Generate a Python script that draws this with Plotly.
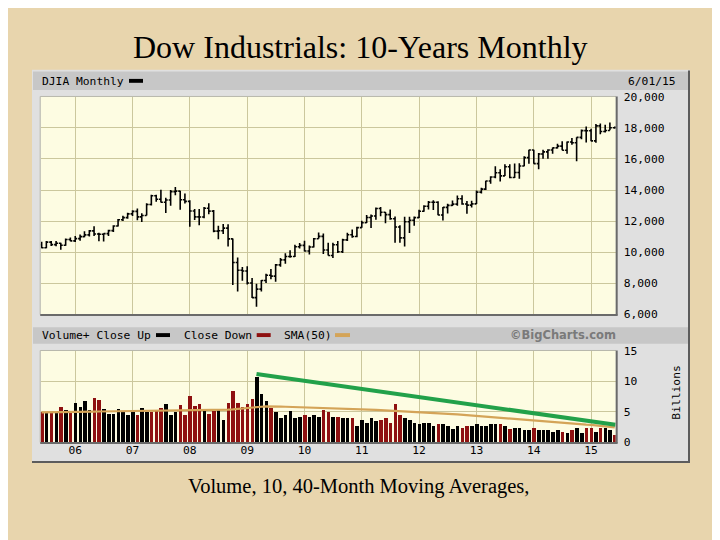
import pandas as pd
import plotly.graph_objects as go

W, H = 720, 540
OFF = 8  # the page places the figure 8px from the top-left corner


def px(x):
    return (x - OFF) / W


def py(y):
    return 1 - (y - OFF) / H


# ---------------- data ----------------
months = pd.date_range("2005-06-01", "2015-06-01", freq="MS")

year_ticks = ["2006-01-01", "2007-01-01", "2008-01-01", "2009-01-01", "2010-01-01",
              "2011-01-01", "2012-01-01", "2013-01-01", "2014-01-01", "2015-01-01"]
year_labels = ["06", "07", "08", "09", "10", "11", "12", "13", "14", "15"]

price_ticks = [6000, 8000, 10000, 12000, 14000, 16000, 18000, 20000]
volume_ticks = [0, 5, 10, 15]

opens = [
    10467, 10275, 10641, 10482, 10569, 10440, 10806,
    10718, 10865, 10993, 11109, 11367, 11168, 11150, 11186, 11381, 11679, 12081, 12222,
    12463, 12622, 12269, 12354, 13063, 13628, 13409, 13212, 13358, 13896, 13930, 13372,
    13265, 12650, 12266, 12263, 12820, 12638, 11350, 11378, 11544, 10851, 9325, 8829,
    8776, 8001, 7063, 7609, 8168, 8500, 8447, 9172, 9496, 9712, 9713, 10345,
    10428, 10067, 10325, 10857, 11009, 10137, 9774, 10466, 10015, 10788, 11118, 11006,
    11578, 11892, 12226, 12320, 12811, 12570, 12414, 12143, 11614, 10913, 11955, 12046,
    12218, 12633, 12952, 13212, 13214, 12393, 12880, 13009, 13091, 13437, 13096, 13026,
    13104, 13861, 14054, 14579, 14840, 15116, 14910, 15500, 14810, 15130, 15546, 16086,
    16577, 15699, 16322, 16458, 16581, 16717, 16827, 16563, 17098, 17043, 17391, 17828,
    17823, 17165, 18133, 17776, 17841, 18011,
]
highs = [
    10657, 10720, 10719, 10720, 10600, 10874, 10939,
    11043, 11137, 11335, 11420, 11670, 11250, 11220, 11440, 11720, 12130, 12340, 12530,
    12700, 12800, 12500, 13140, 13700, 13690, 14021, 13500, 14000, 14198, 13960, 13780,
    13340, 12770, 12770, 12900, 13140, 12710, 11700, 11810, 11790, 10880, 9650, 9030,
    9090, 8320, 7950, 8200, 8600, 8900, 9230, 9620, 9920, 10120, 10470, 10580,
    10730, 10420, 10900, 11260, 11200, 10600, 10600, 10720, 10860, 11250, 11450, 11630,
    12020, 12390, 12420, 12880, 12900, 12590, 12750, 12300, 11720, 12280, 12280, 12300,
    12720, 13010, 13290, 13340, 13280, 12900, 13110, 13330, 13650, 13660, 13290, 13300,
    13970, 14150, 14590, 14890, 15540, 15340, 15660, 15660, 15710, 15720, 16170, 16590,
    16590, 16380, 16590, 16630, 16740, 16980, 17150, 17120, 17350, 17400, 17900, 18100,
    17950, 18260, 18290, 18200, 18350, 18100,
]
lows = [
    10248, 10250, 10390, 10378, 10156, 10400, 10700,
    10650, 10730, 10950, 11000, 11030, 10700, 10683, 11040, 11290, 11640, 12000, 12140,
    12330, 12050, 11940, 12350, 13000, 13250, 13200, 12518, 12990, 13670, 12720, 13130,
    11630, 12070, 11730, 12180, 12440, 11280, 10830, 11160, 10360, 7880, 7450, 8150,
    7900, 7030, 6469, 7450, 8000, 8250, 8090, 9050, 9250, 9640, 9680, 10230,
    10030, 9840, 10300, 10850, 9870, 9770, 9610, 9940, 9940, 10710, 10930, 10950,
    11560, 11870, 11550, 12090, 12310, 11860, 12080, 10600, 10600, 10360, 11230, 11700,
    12200, 12600, 12740, 12710, 12380, 12040, 12490, 12970, 12990, 13050, 12470, 12880,
    13100, 13780, 14000, 14400, 14760, 14550, 14900, 14760, 14780, 14720, 15530, 15700,
    15690, 15340, 16020, 16020, 16330, 16680, 16560, 16330, 16920, 15860, 17280, 17070,
    17140, 17040, 17600, 17700, 17850, 17950,
]
closes = [
    10275, 10641, 10482, 10569, 10440, 10806, 10718,
    10865, 10993, 11109, 11367, 11168, 11150, 11186, 11381, 11679, 12081, 12222, 12463,
    12622, 12269, 12354, 13063, 13628, 13409, 13212, 13358, 13896, 13930, 13372, 13265,
    12650, 12266, 12263, 12820, 12638, 11350, 11378, 11544, 10851, 9325, 8829, 8776,
    8001, 7063, 7609, 8168, 8500, 8447, 9172, 9496, 9712, 9713, 10345, 10428,
    10067, 10325, 10857, 11009, 10137, 9774, 10466, 10015, 10788, 11118, 11006, 11578,
    11892, 12226, 12320, 12811, 12570, 12414, 12143, 11614, 10913, 11955, 12046, 12218,
    12633, 12952, 13212, 13214, 12393, 12880, 13009, 13091, 13437, 13096, 13026, 13104,
    13861, 14054, 14579, 14840, 15116, 14910, 15500, 14810, 15130, 15546, 16086, 16577,
    15699, 16322, 16458, 16581, 16717, 16827, 16563, 17098, 17043, 17391, 17828, 17823,
    17165, 18133, 17776, 17841, 18011, 18040,
]

# monthly volume, billions of shares
volume = [
    5.0, 5.0, 5.0, 5.0, 5.8, 5.3, 5.0,
    6.5, 5.8, 6.8, 5.3, 7.3, 6.9, 5.4, 4.6, 4.6, 5.4, 4.9, 4.5,
    4.9, 4.5, 5.6, 4.9, 4.9, 5.1, 5.6, 6.2, 4.5, 4.9, 6.1, 4.5,
    7.6, 6.0, 6.2, 5.1, 4.6, 5.1, 5.4, 3.6, 6.4, 8.4, 6.4, 5.8,
    6.3, 7.1, 10.7, 7.9, 6.8, 5.6, 5.0, 4.05, 4.4, 5.2, 3.9, 4.2,
    4.4, 4.2, 4.4, 4.2, 5.3, 5.0, 4.2, 4.2, 3.95, 3.95, 3.95, 2.6,
    3.6, 3.2, 3.95, 3.5, 3.6, 3.95, 3.15, 6.2, 4.4, 4.05, 3.6, 3.2,
    3.07, 3.2, 3.2, 2.6, 3.07, 3.07, 2.6, 2.2, 2.6, 2.4, 2.6, 2.6,
    3.0, 2.6, 2.7, 3.0, 3.0, 3.07, 2.6, 2.2, 2.4, 2.3, 2.0, 2.05,
    2.3, 2.05, 2.05, 2.05, 1.67, 2.0, 1.62, 1.5, 2.0, 2.3, 1.5, 2.3,
    2.3, 1.62, 2.4, 2.3, 1.94, 1.13,
]
volume_dir = [
    "down", "up", "down", "up", "down", "up", "down",
    "up", "up", "up", "up", "down", "down", "up", "up", "up", "up", "up", "up",
    "up", "down", "up", "up", "down", "down", "down", "up", "up", "up", "down", "down",
    "down", "down", "down", "up", "down", "down", "up", "up", "down", "down", "down", "down",
    "down", "down", "up", "up", "up", "down", "up", "up", "up", "up", "up", "up",
    "down", "up", "up", "up", "down", "down", "up", "down", "up", "up", "down", "up",
    "up", "up", "up", "up", "down", "down", "down", "down", "down", "up", "up", "up",
    "up", "up", "up", "up", "down", "up", "up", "up", "up", "down", "down", "up",
    "up", "up", "up", "up", "up", "down", "up", "down", "up", "up", "up", "up",
    "down", "up", "up", "up", "up", "up", "down", "up", "down", "up", "up", "down",
    "down", "up", "down", "up", "up", "down",
]

sma50 = [
    4.90, 4.90, 4.91, 4.92, 4.93, 4.95, 4.96,
    4.97, 4.98, 5.00, 5.01, 5.02, 5.04, 5.05, 5.05, 5.06, 5.06, 5.07, 5.08,
    5.08, 5.09, 5.10, 5.10, 5.11, 5.12, 5.12, 5.13, 5.14, 5.15, 5.16, 5.18,
    5.20, 5.22, 5.24, 5.26, 5.28, 5.30, 5.32, 5.33, 5.36, 5.40, 5.45, 5.50,
    5.55, 5.62, 5.72, 5.82, 5.88, 5.90, 5.88, 5.85, 5.82, 5.80, 5.78, 5.76,
    5.72, 5.68, 5.64, 5.60, 5.57, 5.55, 5.52, 5.50, 5.48, 5.46, 5.44, 5.42,
    5.40, 5.37, 5.34, 5.30, 5.26, 5.22, 5.18, 5.15, 5.12, 5.10, 5.08, 5.05,
    5.00, 4.95, 4.90, 4.85, 4.80, 4.74, 4.68, 4.62, 4.56, 4.50, 4.44, 4.38,
    4.30, 4.24, 4.17, 4.10, 4.03, 3.96, 3.89, 3.82, 3.74, 3.66, 3.58, 3.52,
    3.46, 3.40, 3.34, 3.28, 3.22, 3.16, 3.10, 3.05, 3.00, 2.96, 2.92, 2.88,
    2.84, 2.78, 2.70, 2.62, 2.52, 2.42,
]

trend_dates = ["2009-03-01", "2015-06-06"]
trend_values = [11.2, 2.85]

# ---------------- styles ----------------
BG = "#e8d5ad"
PANEL = "#e0e0e0"
BAND = "#c7c7c7"
CREAM = "#fdfce2"
GRID = "#cbc79d"
RED = "#8e1010"
TAN = "#d4a458"
GREEN = "#22a14a"
MONO = "DejaVu Sans Mono"
SERIF = "Liberation Serif"

dir_colors = {"up": "#000000", "down": RED}

fig = go.Figure()

fig.add_trace(go.Ohlc(
    x=months, open=opens, high=highs, low=lows, close=closes,
    xaxis="x", yaxis="y",
    increasing=dict(line=dict(color="black", width=1.6)),
    decreasing=dict(line=dict(color="black", width=1.6)),
    tickwidth=0.45, hoverinfo="skip", showlegend=False,
))

fig.add_trace(go.Bar(
    x=months, y=volume, xaxis="x2", yaxis="y2",
    marker=dict(color=[dir_colors[d] for d in volume_dir], line=dict(width=0)),
    width=23 * 86400000, hoverinfo="skip", showlegend=False,
))

fig.add_trace(go.Scatter(
    x=months, y=sma50, xaxis="x2", yaxis="y2", mode="lines",
    line=dict(color=TAN, width=2.2), hoverinfo="skip", showlegend=False,
))

fig.add_trace(go.Scatter(
    x=trend_dates, y=trend_values, xaxis="x2", yaxis="y2", mode="lines",
    line=dict(color=GREEN, width=4), hoverinfo="skip", showlegend=False,
))

x_dom = [px(40.7), px(615.7)]
x_range = ["2005-05-26", "2015-06-07"]
tick_font = dict(family=MONO, size=11.3, color="black")

fig.update_layout(
    width=W, height=H,
    margin=dict(l=0, r=0, t=0, b=0, pad=0),
    paper_bgcolor=BG,
    plot_bgcolor="rgba(0,0,0,0)",
    showlegend=False,
    bargap=0,
    xaxis=dict(domain=x_dom, anchor="y", type="date", range=x_range,
               tickvals=year_ticks, showticklabels=False, ticks="",
               showgrid=True, gridcolor=GRID, gridwidth=1.2,
               zeroline=False, showline=False,
               rangeslider=dict(visible=False)),
    xaxis2=dict(domain=x_dom, anchor="y2", type="date", range=x_range, matches="x",
                tickvals=year_ticks, ticktext=year_labels, tickfont=tick_font, ticks="",
                showgrid=True, gridcolor=GRID, gridwidth=1.2,
                zeroline=False, showline=False),
    yaxis=dict(domain=[py(315.5), py(93)], anchor="x", range=[6000, 20000], side="right",
               tickvals=price_ticks, tickformat=",", tickfont=tick_font, ticks="",
               ticklabelstandoff=7,
               showgrid=True, gridcolor=GRID, gridwidth=1.2,
               zeroline=False, showline=False),
    yaxis2=dict(domain=[py(446.7), py(353.3)], anchor="x2", range=[0, 15], side="right",
                tickvals=volume_ticks, tickfont=tick_font, ticks="",
                ticklabelstandoff=7,
                showgrid=True, gridcolor=GRID, gridwidth=1.2,
                zeroline=False, showline=False),
)


def rect(x0, y0, x1, y1, color, layer="below"):
    return dict(type="rect", xref="paper", yref="paper",
                x0=px(x0), x1=px(x1), y0=py(y1), y1=py(y0),
                fillcolor=color, line=dict(width=0), layer=layer)


def line(x0, y0, x1, y1, color, width, layer="above"):
    return dict(type="line", xref="paper", yref="paper",
                x0=px(x0), x1=px(x1), y0=py(y0), y1=py(y1),
                line=dict(color=color, width=width), layer=layer)


shapes = [
    rect(32, 65, 690, 468, PANEL),
    rect(33, 67, 688, 86, BAND),
    rect(33, 329, 688, 346, BAND),
    rect(40.7, 93, 615.7, 315.5, CREAM),
    rect(40.7, 353.3, 615.7, 446.7, CREAM),
    # panel shadow
    line(689, 66, 689, 468, "#5c5c5c", 2),
    line(32, 467, 690, 467, "#5c5c5c", 2),
    # plot insets
    line(40.2, 92.5, 616, 92.5, "#b8b8ac", 1),
    line(40.2, 92.5, 40.2, 316, "#b8b8ac", 1),
    line(616.7, 92.5, 616.7, 317, "#6a6a6a", 2),
    line(40.2, 316.5, 617.5, 316.5, "#6a6a6a", 2),
    line(40.2, 352.8, 616, 352.8, "#b8b8ac", 1),
    line(40.2, 352.8, 40.2, 447, "#b8b8ac", 1),
    line(616.7, 352.8, 616.7, 448, "#6a6a6a", 2),
    line(40.2, 447.6, 617.5, 447.6, "#6a6a6a", 2),
    # legend swatches
    rect(129, 74.5, 143, 78.5, "#000000", "above"),
    rect(156, 335, 170, 339, "#000000", "above"),
    rect(256.7, 335, 270.7, 339, RED, "above"),
    rect(335, 335, 350, 339, TAN, "above"),
]
fig.update_layout(shapes=shapes)


def label(x, y, text, size=11.3, family=MONO, anchor="left", color="black", angle=0, bold=False):
    return dict(x=px(x), y=py(y), xref="paper", yref="paper", text=("<b>%s</b>" % text) if bold else text,
                showarrow=False, xanchor=anchor, yanchor="middle", textangle=angle,
                font=dict(family=family, size=size, color=color), borderpad=0)


annotations = [
    label(360, 42, "Dow Industrials: 10-Years Monthly", size=32, family=SERIF, anchor="center"),
    label(358, 492, "Volume, 10, 40-Month Moving Averages,", size=20.5, family=SERIF, anchor="center"),
    label(41, 77, "DJIA Monthly"),
    label(627, 77, "6/01/15"),
    label(41, 337, "Volume+ Close Up"),
    label(182.5, 337, "Close Down"),
    label(282.5, 337, "SMA(50)"),
    label(617, 337, "©BigCharts.com", size=11.5, family="DejaVu Sans", anchor="right",
          color="#7a7a7a", bold=True),
    label(676.5, 396.5, "Billions", anchor="center", angle=-90),
]
fig.update_layout(annotations=annotations)

fig.write_html("out.html")
